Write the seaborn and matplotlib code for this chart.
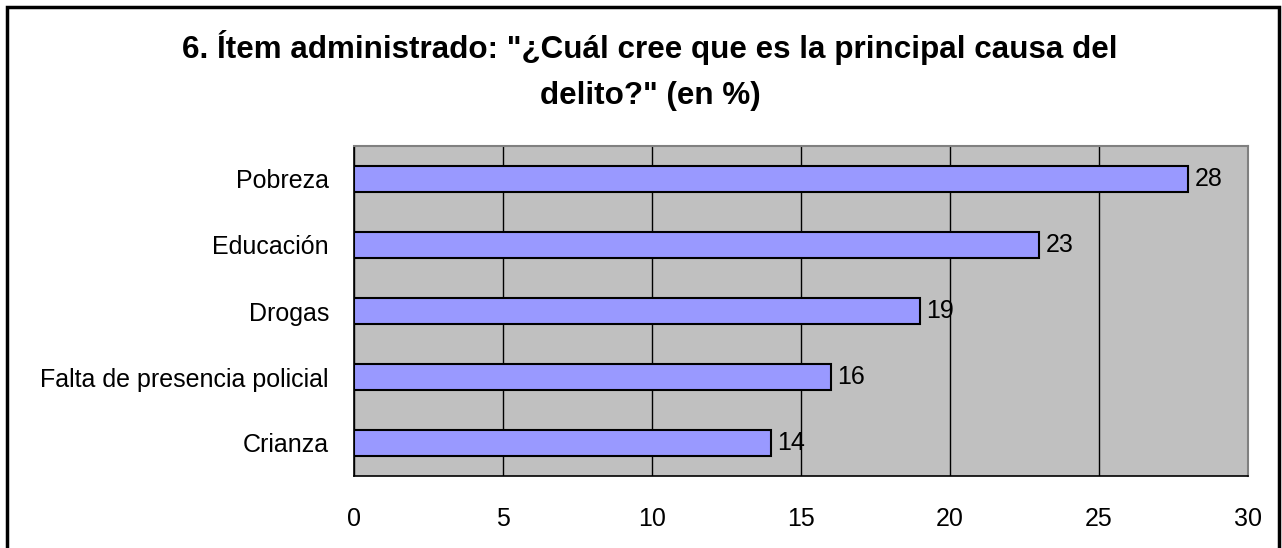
import matplotlib
matplotlib.use("Agg")
import matplotlib.pyplot as plt
from matplotlib.patches import Rectangle
from matplotlib.ticker import FixedLocator
import seaborn as sns
import pandas as pd

# --- DATA ---
categories = ["Pobreza", "Educación", "Drogas", "Falta de presencia policial", "Crianza"]
values = [28, 23, 19, 16, 14]
x_ticks = [0, 5, 10, 15, 20, 25, 30]
title_lines = ['6. Ítem administrado: "¿Cuál cree que es la principal causa del',
               'delito?" (en %)']

sns.set_style("white")
plt.rcParams["font.family"] = ["Liberation Sans", "DejaVu Sans"]
plt.rcParams["text.color"] = "black"
plt.rcParams["xtick.color"] = "black"
plt.rcParams["ytick.color"] = "black"

df = pd.DataFrame({"causa": categories, "pct": values})

W, H = 1282, 548
fig = plt.figure(figsize=(W / 100, H / 100), dpi=100)
ax = fig.add_axes([354 / W, 1 - 476 / H, (1248 - 354) / W, (476 - 146) / H])

ax.set_facecolor("#C0C0C0")
sns.barplot(data=df, x="pct", y="causa", orient="h", color="#9999FF", saturation=1,
            edgecolor="black", linewidth=1.5, width=0.4, ax=ax)

ax.set_xlim(0, 30)
ax.set_ylim(len(categories) - 0.5, -0.5)
ax.set_xticks(x_ticks)
ax.set_xticklabels([str(t) for t in x_ticks], fontsize=18)
ax.tick_params(axis="x", direction="out", length=8, width=1, color="black", pad=14)
ax.tick_params(axis="y", which="major", length=0, pad=18, labelsize=18)
ax.yaxis.set_minor_locator(FixedLocator([i - 0.5 for i in range(len(categories) + 1)]))
ax.tick_params(axis="y", which="minor", direction="out", length=6, width=1, color="black")
ax.set_xlabel("")
ax.set_ylabel("")

ax.xaxis.grid(True, color="black", linewidth=1)
ax.yaxis.grid(False)
ax.set_axisbelow(True)

for side in ["left", "bottom"]:
    ax.spines[side].set_color("black")
    ax.spines[side].set_linewidth(1.2)
for side in ["top", "right"]:
    ax.spines[side].set_color("#808080")
    ax.spines[side].set_linewidth(1.5)

for i, v in enumerate(values):
    ax.text(v + 0.2, i, str(v), va="center", ha="left", fontsize=18, color="black")

for line, base in zip(title_lines, [58, 104]):
    fig.text(650 / W, 1 - base / H, line, ha="center", va="baseline", fontsize=22.6,
             fontweight="bold", color="black")

fig.patches.append(Rectangle((7 / W, -0.05), (1279 - 7) / W, 1 - 7 / H + 0.05,
                             transform=fig.transFigure, fill=False, lw=2.5, ec="black"))

fig.savefig("out.png", dpi=100, facecolor="white")
